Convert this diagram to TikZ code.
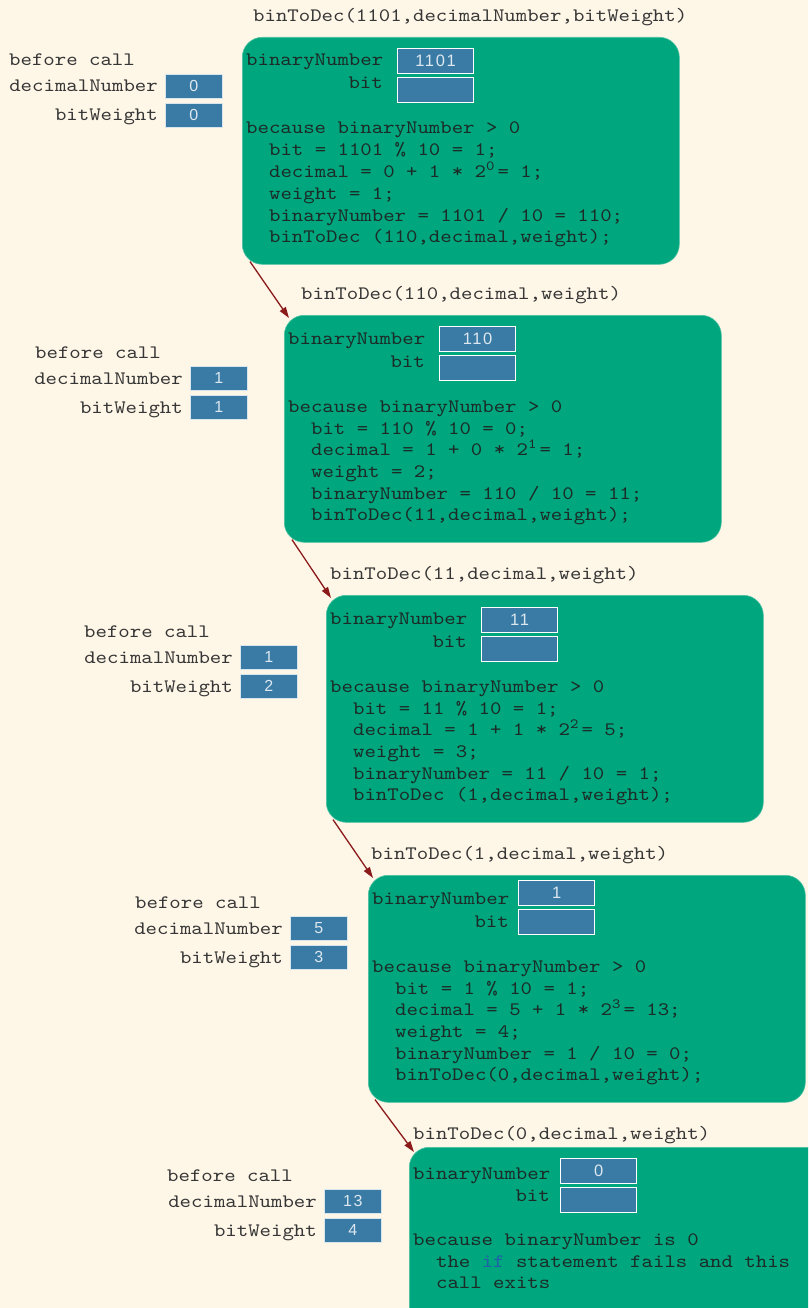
\documentclass[tikz,border=0pt]{standalone}
\usepackage{fontspec}
\setmainfont{lmmono10-regular.otf}[FakeStretch=1.145]
\newfontfamily\valfont{Liberation Sans}[LetterSpace=10]
\usetikzlibrary{calc,arrows.meta}
\definecolor{bg}{HTML}{FEF6E7}
\definecolor{frameg}{HTML}{00A67D}
\definecolor{cellb}{HTML}{3A7BA5}
\definecolor{txt}{HTML}{363636}
\definecolor{intxt}{HTML}{1C2B27}
\definecolor{arr}{HTML}{8B1A1A}
\definecolor{kw}{HTML}{2060A8}
\newlength\chw
\newcommand\supd[1]{\settowidth{\chw}{0}\makebox[\chw][l]{\raisebox{0.36em}{\fontsize{14}{14}\selectfont #1}}}
\begin{document}
\begin{tikzpicture}[x=1pt,y=-1pt,
 lab/.style={font=\fontsize{19}{22}\selectfont, text=txt, inner sep=0pt, anchor=base west},
 labr/.style={lab, anchor=base east},
 code/.style={lab, text=intxt},
 coder/.style={code, anchor=base east},
 frame/.style={fill=frameg, draw=frameg!70!white, line width=0.6pt, rounded corners=20pt, minimum width=437pt, minimum height=227pt, anchor=north west, inner sep=0pt},
 cell/.style={fill=cellb, draw=white, line width=1.2pt, minimum width=76pt, minimum height=25pt, anchor=north west, inner sep=0pt, text=white!82!cellb, font=\valfont\fontsize{16.5}{16.5}\selectfont},
 lcell/.style={cell, draw=white!80!cellb, line width=0.6pt, minimum width=57pt, minimum height=24pt, font=\valfont\fontsize{16}{16}\selectfont},
 call/.style={draw=arr, line width=1.3pt, -{Triangle[length=11pt,width=7pt]}}
]
\useasboundingbox (0,0) rectangle (808,1308);
\fill[bg] (0,0) rectangle (808,1308);
\clip (0,0) rectangle (808,1308);

% ---------- frames ----------
\node[frame] (f1) at (242,37) {};
\node[frame] (f2) at (284,315) {};
\node[frame] (f3) at (326,595) {};
\node[frame] (f4) at (368,875) {};
\node[frame] (f5) at (409,1147) {};

% ---------- frame 1 ----------
\node[lab] (t1) at (253,22) {binToDec(1101,decimalNumber,bitWeight)};
\node[code] (f1bn) at (246,66) {binaryNumber};
\node[coder] (f1bt) at (383,89) {bit};
\node[cell] (f1c1) at (397,48) {1101};
\node[cell] (f1c2) at (397,77) {};
\node[code] (f1a) at (246,134) {because binaryNumber > 0};
\node[code] (f1b) at (268.9,156) {bit = 1101 \% 10 = 1;};
\node[code] (f1c) at (268.9,177.7) {decimal = 0 + 1 * 2\supd{0}= 1;};
\node[code] (f1d) at (268.9,199.4) {weight = 1;};
\node[code] (f1e) at (268.9,221) {binaryNumber = 1101 / 10 = 110;};
\node[code] (f1f) at (268.9,242.7) {binToDec (110,decimal,weight);};

% ---------- frame 2 ----------
\node[lab] (t2) at (301,299) {binToDec(110,decimal,weight)};
\node[code] (f2bn) at (288,344) {binaryNumber};
\node[coder] (f2bt) at (425,367) {bit};
\node[cell] (f2c1) at (439,326) {110};
\node[cell] (f2c2) at (439,355) {};
\node[code] (f2a) at (288,412) {because binaryNumber > 0};
\node[code] (f2b) at (310.9,434) {bit = 110 \% 10 = 0;};
\node[code] (f2c) at (310.9,455.7) {decimal = 1 + 0 * 2\supd{1}= 1;};
\node[code] (f2d) at (310.9,477.4) {weight = 2;};
\node[code] (f2e) at (310.9,499) {binaryNumber = 110 / 10 = 11;};
\node[code] (f2f) at (310.9,520.7) {binToDec(11,decimal,weight);};

% ---------- frame 3 ----------
\node[lab] (t3) at (330,579) {binToDec(11,decimal,weight)};
\node[code] (f3bn) at (330,624) {binaryNumber};
\node[coder] (f3bt) at (467,647) {bit};
\node[cell] (f3c1) at (481,607) {11};
\node[cell] (f3c2) at (481,636) {};
\node[code] (f3a) at (330,692) {because binaryNumber > 0};
\node[code] (f3b) at (352.9,714) {bit = 11 \% 10 = 1;};
\node[code] (f3c) at (352.9,735.7) {decimal = 1 + 1 * 2\supd{2}= 5;};
\node[code] (f3d) at (352.9,757.4) {weight = 3;};
\node[code] (f3e) at (352.9,779) {binaryNumber = 11 / 10 = 1;};
\node[code] (f3f) at (352.9,800.7) {binToDec (1,decimal,weight);};

% ---------- frame 4 ----------
\node[lab] (t4) at (371,859) {binToDec(1,decimal,weight)};
\node[code] (f4bn) at (372,904) {binaryNumber};
\node[coder] (f4bt) at (509,927) {bit};
\node[cell] (f4c1) at (518,880) {1};
\node[cell] (f4c2) at (518,909) {};
\node[code] (f4a) at (372,972) {because binaryNumber > 0};
\node[code] (f4b) at (394.9,994) {bit = 1 \% 10 = 1;};
\node[code] (f4c) at (394.9,1015.7) {decimal = 5 + 1 * 2\supd{3}= 13;};
\node[code] (f4d) at (394.9,1037.4) {weight = 4;};
\node[code] (f4e) at (394.9,1059) {binaryNumber = 1 / 10 = 0;};
\node[code] (f4f) at (394.9,1080.7) {binToDec(0,decimal,weight);};

% ---------- frame 5 ----------
\node[lab] (t5) at (413,1139) {binToDec(0,decimal,weight)};
\node[code] (f5bn) at (413,1179) {binaryNumber};
\node[coder] (f5bt) at (550,1201) {bit};
\node[cell] (f5c1) at (560,1158) {0};
\node[cell] (f5c2) at (560,1187) {};
\node[code] (f5a) at (413,1245) {because binaryNumber is 0};
\node[code] (f5b) at (435.9,1267) {the {\color{kw}if} statement fails and this};
\node[code] (f5c) at (435.9,1288) {call exits};

% ---------- before-call groups ----------
\node[lab] (g1a) at (9,66) {before call};
\node[labr] (g1b) at (158,92) {decimalNumber};
\node[labr] (g1c) at (158,121) {bitWeight};
\node[lcell] (g1d) at (165,74) {0};
\node[lcell] (g1w) at (165,103) {0};

\node[lab] (g2a) at (35,358) {before call};
\node[labr] (g2b) at (183,384) {decimalNumber};
\node[labr] (g2c) at (183,413) {bitWeight};
\node[lcell] (g2d) at (190,366) {1};
\node[lcell] (g2w) at (190,395) {1};

\node[lab] (g3a) at (84,637) {before call};
\node[labr] (g3b) at (233,663) {decimalNumber};
\node[labr] (g3c) at (233,692) {bitWeight};
\node[lcell] (g3d) at (240,645) {1};
\node[lcell] (g3w) at (240,674) {2};

\node[lab] (g4a) at (135,908) {before call};
\node[labr] (g4b) at (283,934) {decimalNumber};
\node[labr] (g4c) at (283,963) {bitWeight};
\node[lcell] (g4d) at (290,916) {5};
\node[lcell] (g4w) at (290,945) {3};

\node[lab] (g5a) at (167,1181) {before call};
\node[labr] (g5b) at (317,1207) {decimalNumber};
\node[labr] (g5c) at (317,1236) {bitWeight};
\node[lcell] (g5d) at (324,1189) {13};
\node[lcell] (g5w) at (324,1218) {4};

% ---------- call arrows ----------
\coordinate (s1) at ($(f1.south west)+(8,-3)$);
\coordinate (e1) at ($(f2.north west)+(5,3)$);
\coordinate (s2) at ($(f2.south west)+(8,-3)$);
\coordinate (e2) at ($(f3.north west)+(5,3)$);
\coordinate (s3) at ($(f3.south west)+(7,-3)$);
\coordinate (e3) at ($(f4.north west)+(5,3)$);
\coordinate (s4) at ($(f4.south west)+(7,-3)$);
\coordinate (e4) at ($(f5.north west)+(5,5)$);
\draw[call] (s1) -- (e1);
\draw[call] (s2) -- (e2);
\draw[call] (s3) -- (e3);
\draw[call] (s4) -- (e4);
\end{tikzpicture}
\end{document}
